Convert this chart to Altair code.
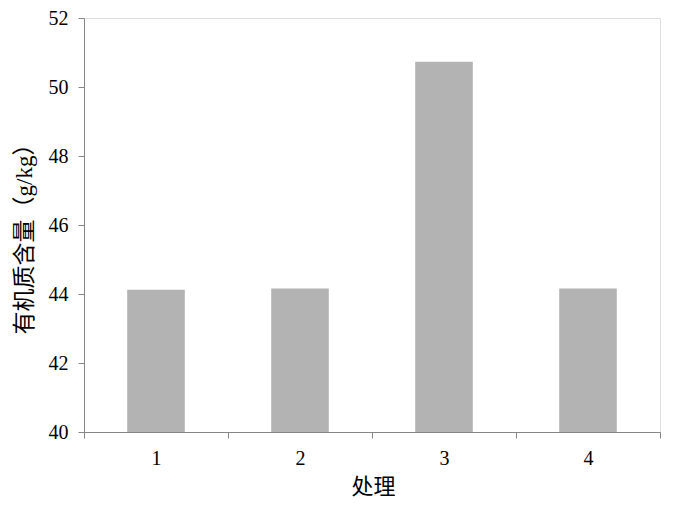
import altair as alt
import pandas as pd

categories = ["1", "2", "3", "4"]
values = [44.12, 44.16, 50.73, 44.16]
y_ticks = [40, 42, 44, 46, 48, 50, 52]
y_min = 40

df = pd.DataFrame({"处理": categories, "value": values})

axis_color = "#868686"
serif = "Liberation Serif, Times New Roman, serif"
cjk = "Liberation Serif, Noto Sans CJK SC, serif"

chart = alt.Chart(df).mark_bar(
    color="#b3b3b3",
    width=alt.RelativeBandSize(0.4),
    clip=True,
).encode(
    x=alt.X(
        "处理:N",
        sort=categories,
        scale=alt.Scale(paddingInner=0, paddingOuter=0),
        axis=alt.Axis(
            title="处理",
            labelAngle=0,
            tickBand="extent",
            tickSize=6,
            tickColor=axis_color,
            domainColor=axis_color,
            labelFont=serif,
            labelFontSize=20,
            labelColor="black",
            labelPadding=10,
            titleFont=cjk,
            titleFontSize=22,
            titleFontWeight="normal",
            titleColor="black",
            titleX=289,
            titleY=54,
            titleAlign="center",
            titleBaseline="middle",
        ),
    ),
    y=alt.Y(
        "value:Q",
        scale=alt.Scale(domain=[40, 52], zero=False, nice=False),
        axis=alt.Axis(
            title="有机质含量（g/kg）",
            values=y_ticks,
            grid=False,
            tickSize=6,
            tickColor=axis_color,
            domainColor=axis_color,
            labelFont=serif,
            labelFontSize=20,
            labelColor="black",
            labelPadding=10,
            titleFont=cjk,
            titleFontSize=23,
            titleFontWeight="normal",
            titleColor="black",
            titleX=-60,
            titleY=215,
            titleAlign="center",
            titleBaseline="middle",
        ),
    ),
    y2=alt.datum(y_min),
).properties(
    width=576,
    height=414,
    autosize=alt.AutoSizeParams(type="none"),
    padding={"left": 76, "top": 10, "right": 5, "bottom": 65},
).configure_view(stroke=None).configure(background="white")

chart.save("out.html", embed_options={"renderer": "svg", "actions": False})
